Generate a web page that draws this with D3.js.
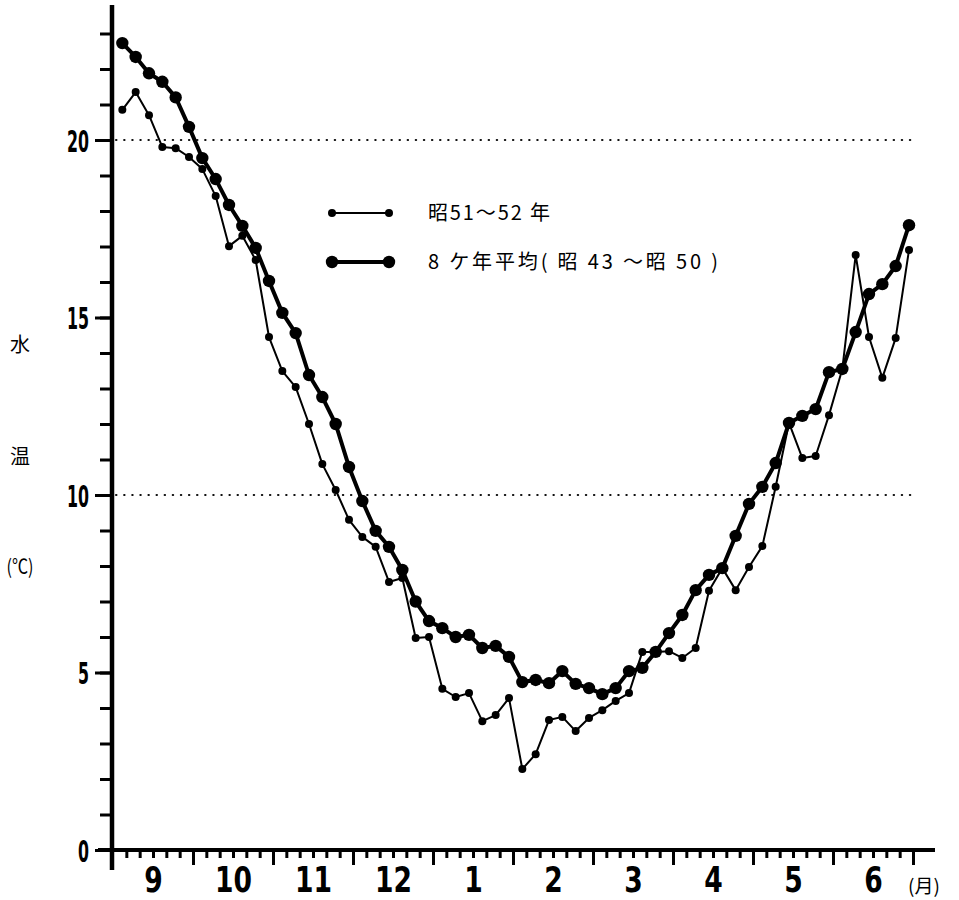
<!DOCTYPE html>
<html>
<head>
<meta charset="utf-8">
<script src="https://cdn.jsdelivr.net/npm/d3@7"></script>
<style>
  body { margin: 0; background: #fff; }
</style>
</head>
<body>
<script>
// Month labels along the bottom (Sept .. June), 6 pentads per month
const months = ["9", "10", "11", "12", "1", "2", "3", "4", "5", "6"];

// 昭51〜52年 (thin line, small dots), one value per pentad
const season5152 = [
  20.85, 21.35, 20.7, 19.8, 19.77, 19.52, 19.18, 18.42, 17.01, 17.3,
  16.62, 14.45, 13.49, 13.04, 12.0, 10.87, 10.14, 9.3, 8.82, 8.54,
  7.55, 7.66, 5.97, 6.0, 4.54, 4.31, 4.42, 3.63, 3.8, 4.28,
  2.28, 2.7, 3.66, 3.75, 3.35, 3.72, 3.94, 4.2, 4.42, 5.58,
  5.58, 5.6, 5.41, 5.69, 7.3, 7.94, 7.32, 7.97, 8.56, 10.23,
  12.03, 11.04, 11.1, 12.25, 13.55, 16.76, 14.45, 13.3, 14.42, 16.9
];

// 8ケ年平均 (昭43〜昭50) (thick line, big dots)
const average8 = [
  22.73, 22.34, 21.88, 21.64, 21.2, 20.37, 19.49, 18.9, 18.17, 17.58,
  16.96, 16.03, 15.13, 14.56, 13.38, 12.76, 12.0, 10.79, 9.83, 8.99,
  8.54, 7.89, 7.0, 6.45, 6.25, 6.0, 6.06, 5.69, 5.75, 5.44,
  4.73, 4.79, 4.7, 5.04, 4.68, 4.56, 4.39, 4.56, 5.04, 5.13,
  5.58, 6.11, 6.62, 7.32, 7.75, 7.94, 8.85, 9.75, 10.23, 10.9,
  12.03, 12.23, 12.42, 13.46, 13.55, 14.59, 15.66, 15.94, 16.45, 17.6
];

const yMajor = [0, 5, 10, 15, 20];
const yMinor = d3.range(0, 24);
const gridValues = [10, 20];

const legendNames = ["昭51〜52 年", "8 ケ年平均( 昭 43 〜昭 50 )"];

const W = 959, H = 900;
const numFont = "'Liberation Sans Narrow', 'DejaVu Sans Condensed', 'Arial Narrow', sans-serif";
const jpFont = "'Noto Sans CJK JP', 'Noto Sans', sans-serif";

const svg = d3.select("body")
  .append("svg")
    .attr("width", W)
    .attr("height", H);

// scales: x in pentads from 1 Sept, y in degrees C
const x = d3.scaleLinear().domain([0, 60]).range([113, 913]);
const y = d3.scaleLinear().domain([0, 20]).range([850, 140]);
const px = i => x(i + 0.7);

// dotted reference lines at 10 and 20
svg.selectAll(".grid")
  .data(gridValues)
  .join("line")
    .attr("class", "grid")
    .attr("x1", x(0) + 3)
    .attr("x2", x(60) + 1)
    .attr("y1", d => y(d))
    .attr("y2", d => y(d))
    .attr("stroke", "#111")
    .attr("stroke-width", 2)
    .attr("stroke-linecap", "round")
    .attr("stroke-dasharray", "0.5,7.6");

// Y axis, minor ticks
svg.append("g")
  .attr("transform", `translate(${x(0) - 1},0)`)
  .call(d3.axisLeft(y).tickValues(yMinor).tickSize(12).tickFormat(""))
  .call(g => g.select(".domain").remove())
  .call(g => g.selectAll("line").attr("stroke", "#000").attr("stroke-width", 3));

// Y axis, major ticks with labels
svg.append("g")
  .attr("transform", `translate(${x(0) - 1},0)`)
  .call(d3.axisLeft(y).tickValues(yMajor).tickSize(17).tickPadding(6))
  .call(g => g.select(".domain").remove())
  .call(g => g.selectAll("line").attr("stroke", "#000").attr("stroke-width", 3))
  .call(g => g.selectAll("text")
      .attr("fill", "#000")
      .attr("dy", "0.36em")
      .style("font-family", numFont)
      .style("font-weight", "bold")
      .style("font-size", "31px")
      .attr("textLength", d => String(d).length * 11)
      .attr("lengthAdjust", "spacingAndGlyphs"));

// X axis, minor and major ticks below the line
svg.append("g")
  .attr("transform", `translate(0,${y(0)})`)
  .call(d3.axisBottom(x).tickValues(d3.range(1, 61).filter(d => d % 6 !== 0)).tickSize(8).tickFormat(""))
  .call(g => g.select(".domain").remove())
  .call(g => g.selectAll("line").attr("stroke", "#000").attr("stroke-width", 3));

svg.append("g")
  .attr("transform", `translate(0,${y(0)})`)
  .call(d3.axisBottom(x).tickValues(d3.range(6, 61, 6)).tickSize(15).tickFormat(""))
  .call(g => g.select(".domain").remove())
  .call(g => g.selectAll("line").attr("stroke", "#000").attr("stroke-width", 3));

// month labels in the middle of each month
svg.append("g")
  .attr("transform", `translate(0,${y(0)})`)
  .call(d3.axisBottom(x)
      .tickValues(months.map((m, i) => i * 6 + 3))
      .tickSize(0)
      .tickPadding(17)
      .tickFormat((d, i) => months[i]))
  .call(g => g.select(".domain").remove())
  .call(g => g.selectAll("text")
      .attr("fill", "#000")
      .attr("dy", "0.72em")
      .style("font-family", numFont)
      .style("font-weight", "bold")
      .style("font-size", "35px")
      .attr("textLength", (d, i) => months[i].length * 18.5)
      .attr("lengthAdjust", "spacingAndGlyphs"));

// axis lines (drawn on top of ticks)
svg.append("line")
  .attr("x1", x(0) - 15).attr("x2", x(60) + 22)
  .attr("y1", y(0)).attr("y2", y(0))
  .attr("stroke", "#000").attr("stroke-width", 4);

svg.append("line")
  .attr("x1", x(0) - 1).attr("x2", x(0) - 1)
  .attr("y1", y(23.8)).attr("y2", y(0) + 20)
  .attr("stroke", "#000").attr("stroke-width", 4.5);

// (月)
svg.append("text")
  .attr("x", 908)
  .attr("y", 893)
  .style("font-family", jpFont)
  .style("font-size", "19px")
  .text("(月)");

// Y axis title, stacked vertically
const yTitle = ["水", "温", "(℃)"];
const yTitlePos = [345, 457, 567];
svg.selectAll(".ytitle")
  .data(yTitle)
  .join("text")
    .attr("class", "ytitle")
    .attr("x", 20)
    .attr("y", (d, i) => yTitlePos[i])
    .attr("dy", "0.35em")
    .attr("text-anchor", "middle")
    .style("font-family", jpFont)
    .style("font-size", "20px")
    .attr("textLength", (d, i) => i === 2 ? 27 : null)
    .attr("lengthAdjust", "spacingAndGlyphs")
    .text(d => d);

// lines
const series = [
  {values: season5152, width: 2, r: 4},
  {values: average8, width: 4, r: 6.2}
];

series.forEach(function(s) {
  const line = d3.line()
    .x((d, i) => px(i))
    .y(d => y(d));

  svg.append("path")
    .datum(s.values)
    .attr("fill", "none")
    .attr("stroke", "#000")
    .attr("stroke-width", s.width)
    .attr("stroke-linejoin", "round")
    .attr("d", line);

  svg.append("g")
    .selectAll("circle")
    .data(s.values)
    .join("circle")
      .attr("cx", (d, i) => px(i))
      .attr("cy", d => y(d))
      .attr("r", s.r)
      .attr("fill", "#000");
});

// legend
const legendY = [213, 262];
series.forEach(function(s, i) {
  const lx1 = 332, lx2 = 389;
  svg.append("line")
    .attr("x1", lx1).attr("x2", lx2)
    .attr("y1", legendY[i]).attr("y2", legendY[i])
    .attr("stroke", "#000")
    .attr("stroke-width", s.width);
  svg.append("circle").attr("cx", lx1).attr("cy", legendY[i]).attr("r", s.r).attr("fill", "#000");
  svg.append("circle").attr("cx", lx2).attr("cy", legendY[i]).attr("r", s.r).attr("fill", "#000");

  svg.append("text")
    .attr("x", 428)
    .attr("y", legendY[i])
    .attr("dy", "0.36em")
    .style("font-family", jpFont)
    .style("font-size", "20px")
    .attr("textLength", i === 0 ? 122 : 290)
    .attr("lengthAdjust", "spacing")
    .text(legendNames[i]);
});
</script>
</body>
</html>
